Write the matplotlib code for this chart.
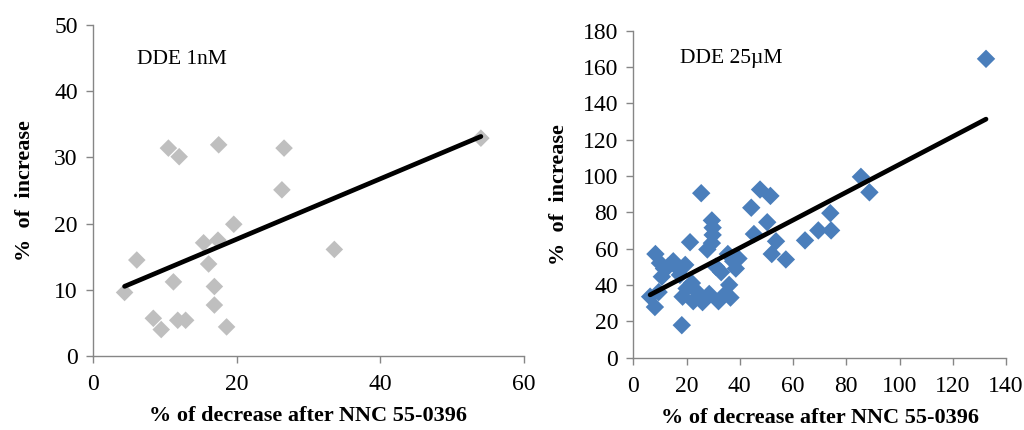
import numpy as np
import matplotlib
matplotlib.use("Agg")
import matplotlib.pyplot as plt

plt.rcParams['font.family'] = ['Liberation Serif', 'DejaVu Serif']

# DDE 1nM
x_1nm = [4.4, 6.1, 8.4, 9.5, 10.5, 11.2, 11.8, 12.0, 12.9, 15.4, 16.1, 16.9,
         16.9, 17.4, 17.5, 18.6, 19.6, 26.3, 26.6, 33.6, 54.0]
y_1nm = [9.6, 14.5, 5.7, 4.0, 31.4, 11.2, 5.4, 30.1, 5.4, 17.1, 13.9, 10.5,
         7.7, 17.5, 31.9, 4.4, 19.9, 25.1, 31.4, 16.1, 32.9]

# DDE 25uM
x_25um = [6.3, 8.1, 8.3, 9.5, 10.0, 10.7, 11.5, 13.0, 15.0, 16.5, 17.5, 18.2,
          18.5, 19.5, 20.0, 21.3, 22.0, 22.5, 24.0, 25.5, 26.0, 27.8, 28.5,
          29.5, 29.8, 29.8, 29.5, 31.0, 32.0, 33.0, 34.5, 35.5, 36.0, 36.5,
          37.5, 38.5, 39.5, 44.3, 45.3, 47.6, 50.3, 51.5, 52.0, 53.6, 57.3,
          64.5, 69.5, 74.3, 74.0, 85.5, 88.7, 132.5]
y_25um = [33.5, 27.8, 57.0, 36.0, 52.0, 44.5, 49.0, 50.0, 53.0, 49.5, 45.5, 17.8,
          33.5, 51.0, 38.0, 63.5, 41.0, 31.0, 36.0, 90.5, 30.5, 59.5, 35.0,
          75.5, 71.5, 67.5, 63.0, 50.0, 31.0, 47.0, 35.0, 57.0, 40.0, 33.0,
          53.0, 49.0, 54.5, 82.5, 68.0, 92.5, 74.5, 89.0, 57.0, 64.0, 54.0,
          64.5, 70.0, 70.0, 79.5, 99.5, 91.0, 164.5]

fig = plt.figure(figsize=(10.24, 4.3), dpi=100)
ax1 = fig.add_axes([0.0908, 0.172, 0.4209, 0.770])
ax2 = fig.add_axes([0.6185, 0.1686, 0.3639, 0.760])

spine_col = '#868686'


def style(ax):
    for s in ['top', 'right']:
        ax.spines[s].set_visible(False)
    for s in ['left', 'bottom']:
        ax.spines[s].set_color(spine_col)
        ax.spines[s].set_linewidth(1.0)
    ax.tick_params(direction='out', length=5, width=1, color=spine_col,
                   labelsize=17, pad=6)
    ax.tick_params(axis='x', pad=8)


def trend(ax, x, y):
    x = np.array(x)
    k, b = np.polyfit(x, y, 1)
    xs = np.array([x.min(), x.max()])
    ax.plot(xs, k * xs + b, color='black', linewidth=3.4, solid_capstyle='round', zorder=3)


# left panel
ax1.scatter(x_1nm, y_1nm, marker='D', s=80, color='#BFBFBF', edgecolors='none', zorder=2)
trend(ax1, x_1nm, y_1nm)
ax1.set_xlim(0, 60)
ax1.set_ylim(0, 50)
ax1.set_xticks([0, 20, 40, 60])
ax1.set_yticks([0, 10, 20, 30, 40, 50])
style(ax1)
ax1.text(0.102, 0.897, 'DDE 1nM', transform=ax1.transAxes, fontsize=15.5, va='center')
ax1.set_xlabel('% of decrease after NNC 55-0396', fontsize=16, fontweight='bold', labelpad=8)
ax1.set_ylabel('%  of  increase', fontsize=16, fontweight='bold', labelpad=14)

# right panel
ax2.scatter(x_25um, y_25um, marker='D', s=88, color='#4A7EBB', edgecolors='none', zorder=2)
trend(ax2, x_25um, y_25um)
ax2.set_xlim(0, 140)
ax2.set_ylim(0, 180)
ax2.set_xticks(range(0, 141, 20))
ax2.set_yticks(range(0, 181, 20))
style(ax2)
ax2.text(0.125, 0.915, 'DDE 25\u00b5M', transform=ax2.transAxes, fontsize=15.5, va='center')
ax2.set_xlabel('% of decrease after NNC 55-0396', fontsize=16, fontweight='bold', labelpad=8)
ax2.set_ylabel('%  of  increase', fontsize=16, fontweight='bold', labelpad=10)

fig.savefig('out.png', dpi=100)
